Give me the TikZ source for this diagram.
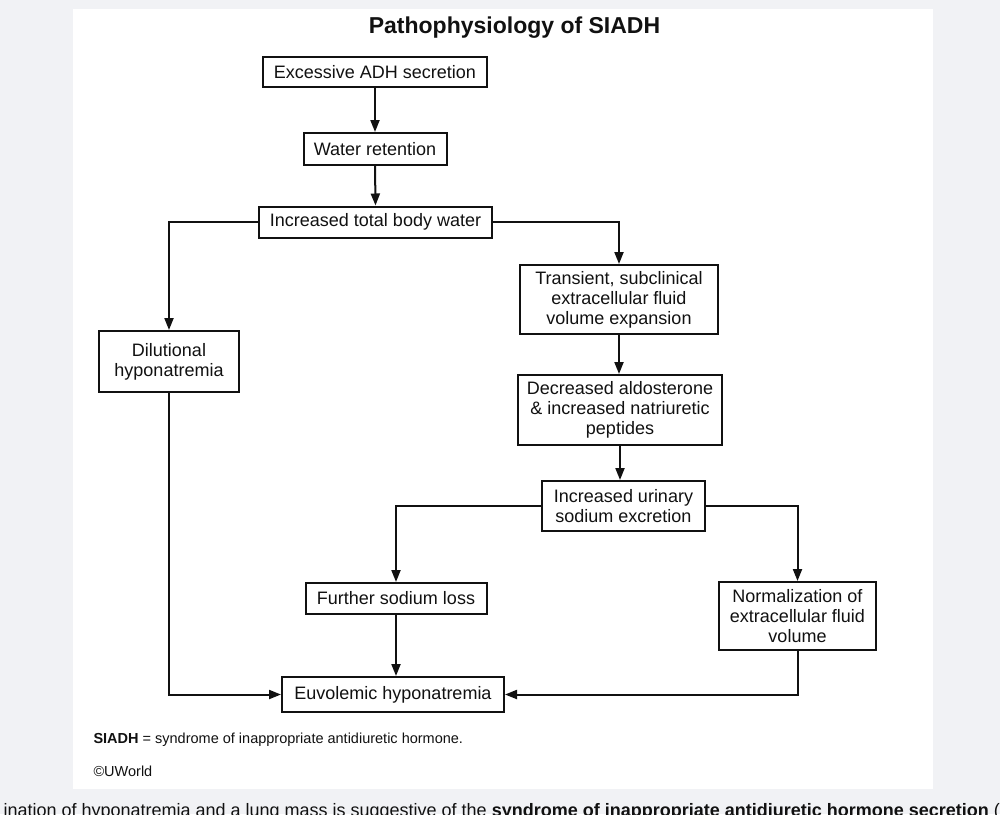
\documentclass[tikz,border=0pt]{standalone}
\usepackage{fontspec}
\setmainfont{Liberation Sans}
\usetikzlibrary{arrows.meta}
\definecolor{bg}{HTML}{F1F2F5}
\definecolor{ink}{HTML}{111111}
\begin{document}
\begin{tikzpicture}[x=1pt,y=-1pt,
  box/.style={draw=ink,line width=2pt,align=center,inner sep=0pt,
    font=\fontsize{18}{20}\selectfont,text=ink},
  arr/.style={draw=ink,line width=2pt,-{Triangle[length=12pt,width=9pt]}},
  lbl/.style={anchor=base west,text=ink}]
\useasboundingbox (0,0) rectangle (1000,814);
\clip (0,0) rectangle (1000,814);
\fill[bg] (0,0) rectangle (1000,814);
\fill[white] (73,9) rectangle (933,789);

\node[anchor=base,font=\bfseries\fontsize{23}{26}\selectfont,text=ink] (title) at (514.5,33) {Pathophysiology of SIADH};

\node[box,minimum width=224pt,minimum height=30pt] (b1) at (375,72) {Excessive ADH secretion};
\node[box,minimum width=143pt,minimum height=32pt] (b2) at (375,149) {Water retention};
\node[box,minimum width=233pt,minimum height=31pt] (b3) at (375.5,222) {Increased total body water};
\node[box,minimum width=140pt,minimum height=61pt] (b4) at (169,361.5) {Dilutional\\hyponatremia};
\node[box,minimum width=198pt,minimum height=69pt] (b5) at (619,299.5) {Transient, subclinical\\extracellular fluid\\volume expansion};
\node[box,minimum width=204pt,minimum height=70pt] (b6) at (620,410) {Decreased aldosterone\\\& increased natriuretic\\peptides};
\node[box,minimum width=163pt,minimum height=50pt] (b7) at (623.5,506) {Increased urinary\\sodium excretion};
\node[box,minimum width=181pt,minimum height=31pt] (b8) at (396,598.5) {Further sodium loss};
\node[box,minimum width=157pt,minimum height=68pt] (b9) at (797.5,616) {Normalization of\\extracellular fluid\\volume};
\node[box,minimum width=222pt,minimum height=35pt] (b10) at (393,694.5) {Euvolemic hyponatremia};

\draw[arr] (b1.south) -- (b2.north);
\draw[arr] (b2.south) -- (b3.north);
\draw[arr] (b3.west) -| (b4.north);
\draw[arr] (b3.east) -| (b5.north);
\draw[arr] (b5.south) -- (b5.south |- b6.north);
\draw[arr] (b6.south) -- (b6.south |- b7.north);
\draw[arr] (b7.west) -| (b8.north);
\draw[arr] (b7.east) -| (b9.north);
\draw[arr] (b8.south) -- (b8.south |- b10.north);
\draw[arr] (b4.south) |- (b10.west);
\draw[arr] (b9.south) |- (b10.east);

\node[lbl,font=\fontsize{14.5}{16}\selectfont] (fn) at (90,743) {\textbf{SIADH} = syndrome of inappropriate antidiuretic hormone.};
\node[lbl,font=\fontsize{14.5}{16}\selectfont] (cr) at (90,776) {©UWorld};

\node[lbl,font=\fontsize{18}{20}\selectfont] (cap) at (0,816) {ination of hyponatremia and a lung mass is suggestive of the \textbf{syndrome of inappropriate antidiuretic hormone secretion} (};
\end{tikzpicture}
\end{document}
